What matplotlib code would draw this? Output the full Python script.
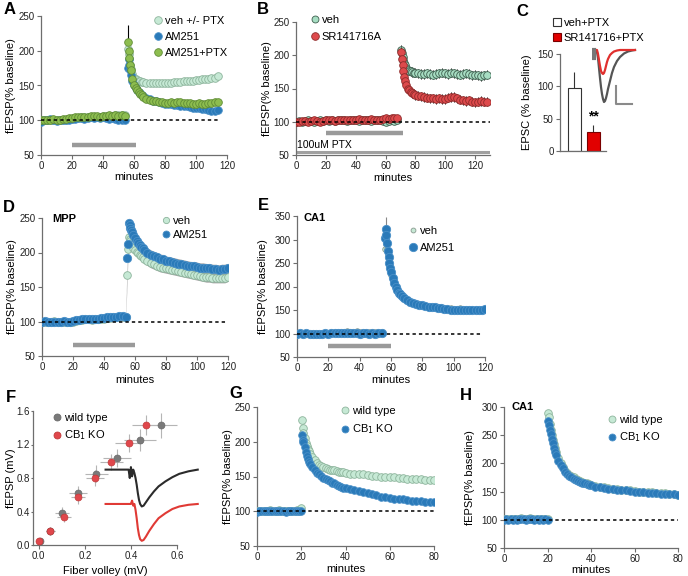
import numpy as np
import matplotlib
matplotlib.use('Agg')
import matplotlib.pyplot as plt
from matplotlib.lines import Line2D
from matplotlib.patches import Patch

plt.rcParams['font.family'] = ['Liberation Sans', 'DejaVu Sans']
plt.rcParams['font.size'] = 7.5

# ---------------- DATA ----------------
# Panel A
A_t_base = np.arange(0, 56, 2)
A_veh_base = [100,100,101,100,100,101,100,100,101,102,102,103,103,104,104,105,104,105,105,105,106,105,106,106,107,107,108,108]
A_am_base = [98,100,101,102,100,99,100,101,100,101,102,102,103,103,102,103,104,103,104,103,104,103,102,103,102,101,101,100]
A_ptx_base = [100,101,100,101,102,101,101,102,102,103,103,104,104,105,105,105,106,106,106,105,106,106,107,106,107,106,107,106]
A_t_post = [56,56.5,57,57.5,58,59,60,61,62,63,64,65,66,68,70,72,74,76,78,80,82,84,86,88,90,92,94,96,98,100,102,104,106,108,110,112,114]
A_veh_post = [203,195,188,180,174,166,161,159,158,157,156,155,155,154,154,153,153,154,153,153,154,154,155,155,155,156,156,157,157,158,158,159,160,160,161,161,163]
A_am_post = [175,188,180,172,165,156,150,146,143,141,139,137,135,132,130,128,127,126,125,124,123,123,122,122,121,120,120,119,118,117,117,116,116,115,114,114,115]
A_ptx_post = [212,200,190,180,172,160,150,146,143,140,138,136,134,131,129,128,127,126,126,125,125,126,125,126,126,125,125,125,124,124,125,124,124,125,125,126,126]
A_labels = ['veh +/- PTX', 'AM251', 'AM251+PTX']

# Panel B
B_t_base = np.arange(0, 70, 2)
B_veh_base = [100,101,100,101,102,101,100,101,102,101,102,101,102,101,102,103,102,101,102,103,102,101,102,103,102,101,102,103,102,101,100,101,102,101,102]
B_sr_base = [100,100,101,101,100,101,102,101,100,101,102,103,102,101,102,103,102,102,103,102,103,104,103,102,103,104,103,102,103,104,105,104,105,106,106]
B_t_post = [70.5,71,71.5,72,72.5,73,74,75,76,77,78,79,80,82,84,86,88,90,92,94,96,98,100,102,104,106,108,110,112,114,116,118,120,122,124,126,128]
B_veh_post = [208,203,198,193,189,186,181,178,177,176,175,174,174,173,172,172,173,172,171,172,173,174,173,172,174,173,172,171,172,173,172,170,171,170,169,170,171]
B_sr_post = [205,195,185,176,168,162,155,150,147,145,143,142,140,139,138,137,136,135,135,134,135,134,134,136,137,137,135,133,132,131,132,130,129,130,131,130,130]
B_labels = ['veh', 'SR141716A']

# Panel C
C_groups = ['veh+PTX', 'SR141716+PTX']
C_vals = [97, 29]
C_errs = [25, 11]
C_trace_t = [0,3,5,6,7,8,9,10,11,12,13,14,15,16,18,20,22,25,28,32,36,40,43]
C_trace_veh = [0,0,-2,-8,-18,-28,-37,-44,-49,-52,-51,-48,-44,-39,-31,-23,-17,-11,-7,-3.5,-1.5,-0.5,0]
C_trace_sr = [0,0,0,-4,-10,-16,-21,-23,-24,-23,-20,-16,-12,-9,-5,-3,-1.5,-0.5,0,0,0,0,0]

# Panel D
D_t_base = np.arange(0, 56, 2)
D_veh_base = [100,100,99,100,101,100,99,100,100,99,100,101,102,102,103,103,102,103,103,104,104,105,105,106,106,107,107,106]
D_am_base = [99,101,100,100,99,100,100,101,100,100,101,102,102,103,104,104,103,104,104,105,105,106,106,107,107,108,108,107]
D_t_post = [55,55.5,56,56.5,57,57.5,58,59,60,61,62,63,64,65,66,68,70,72,74,76,78,80,82,84,86,88,90,92,94,96,98,100,102,104,106,108,110,112,114,116,118,120]
D_veh_post = [168,205,222,220,217,214,211,207,204,201,199,197,195,193,191,188,185,183,181,179,178,177,176,175,174,173,172,171,170,169,168,167,166,165,164,164,163,163,163,163,163,165]
D_am_post = [192,212,243,240,236,232,229,225,221,217,214,211,208,206,204,200,197,195,193,191,190,188,187,186,185,184,183,182,181,180,180,179,178,178,177,177,176,176,175,176,176,177]
D_labels = ['veh', 'AM251']

# Panel E
E_t_base = np.arange(0, 56, 2)
E_veh_base = [100,100,101,100,100,101,100,100,101,101,102,103,103,104,104,104,105,104,104,105,104,103,104,104,103,103,104,104]
E_am_base = [100,101,100,101,100,100,99,100,100,101,100,101,101,102,101,102,101,101,102,101,100,101,101,100,101,100,101,101]
E_t_post = [56,56.5,57,57.5,58,58.5,59,59.5,60,61,62,63,64,65,66,67,68,70,72,74,76,78,80,82,84,86,88,90,92,94,96,98,100,102,104,106,108,110,112,114,116,118,120]
E_am_post = [303,322,310,293,275,262,250,240,230,218,208,200,193,187,183,179,176,172,168,165,163,161,160,158,157,156,156,155,154,153,152,151,150,150,150,150,149,150,150,151,150,151,152]
E_veh_post = [280,295,290,280,268,255,245,235,225,214,205,197,190,185,181,177,174,170,167,164,162,160,159,158,157,157,157,156,156,155,154,154,153,153,154,153,152,152,153,152,151,151,150]
E_labels = ['veh', 'AM251']

# Panel F
F_wt_x = [0.005, 0.05, 0.10, 0.17, 0.25, 0.34, 0.44, 0.53]
F_wt_y = [0.05, 0.17, 0.38, 0.62, 0.85, 1.04, 1.25, 1.43]
F_wt_xerr = [0.01, 0.02, 0.03, 0.04, 0.05, 0.06, 0.07, 0.07]
F_wt_yerr = [0.02, 0.05, 0.07, 0.08, 0.10, 0.11, 0.13, 0.15]
F_ko_x = [0.0, 0.05, 0.11, 0.17, 0.245, 0.315, 0.39, 0.465]
F_ko_y = [0.05, 0.17, 0.34, 0.57, 0.80, 0.99, 1.22, 1.43]
F_ko_xerr = [0.01, 0.02, 0.03, 0.03, 0.04, 0.05, 0.06, 0.06]
F_ko_yerr = [0.02, 0.05, 0.07, 0.08, 0.09, 0.10, 0.11, 0.12]
F_tr_x = [0.29,0.33,0.37,0.39,0.395,0.40,0.405,0.41,0.415,0.42,0.425,0.43,0.435,0.44,0.447,0.455,0.465,0.48,0.50,0.52,0.55,0.58,0.61,0.65,0.69]
F_tr_wt = [0.90,0.90,0.90,0.90,0.80,0.93,0.82,0.90,0.86,0.80,0.72,0.62,0.54,0.49,0.46,0.47,0.51,0.57,0.64,0.70,0.76,0.81,0.85,0.88,0.90]
F_tr_ko = [0.49,0.49,0.49,0.49,0.49,0.49,0.53,0.47,0.49,0.42,0.32,0.20,0.12,0.07,0.05,0.06,0.10,0.17,0.25,0.32,0.38,0.43,0.46,0.48,0.49]
F_labels = ['wild type', 'CB$_1$ KO']

# Panels G, H
GH_t_base = np.arange(0, 21, 1)
GH_t_post = [20.3,20.7,21,21.5,22,22.5,23,23.5,24,25,26,27,28,29,30,31,32,33,34,35,36,37,38,39,40,42,44,46,48,50,52,54,56,58,60,62,64,66,68,70,72,74,76,78,80]
G_wt_base = [100,101,100,101,100,101,102,101,100,101,102,101,100,101,100,101,100,101,102,101,104]
G_ko_base = [99,100,100,101,100,100,101,100,100,101,101,100,100,99,100,100,101,100,100,101,100]
G_wt_post = [232,220,212,205,198,194,190,186,183,178,174,170,167,165,163,162,161,160,159,159,158,157,157,156,155,154,154,153,153,152,151,151,150,150,149,149,148,148,147,147,146,146,145,145,145]
G_ko_post = [210,203,200,192,185,180,175,171,168,163,159,155,153,151,148,147,145,143,141,140,138,137,135,134,133,132,130,129,127,126,125,124,121,120,119,118,118,117,116,115,115,115,114,114,113]
H_wt_base = [101,102,101,102,101,102,101,102,103,102,101,102,103,102,101,102,101,102,101,102,101]
H_ko_base = [100,101,100,101,100,101,100,101,102,101,100,101,102,101,100,101,100,101,100,101,100]
H_wt_post = [290,282,270,260,250,242,234,227,220,209,200,193,187,183,180,177,175,172,170,168,167,166,165,163,162,160,159,158,156,155,154,153,153,152,151,150,150,149,149,148,147,147,146,145,144]
H_ko_post = [275,268,260,252,244,236,228,221,215,205,197,191,185,181,178,175,173,171,169,167,166,165,164,162,161,159,158,157,155,154,153,152,152,151,150,149,149,148,148,147,146,146,145,145,144]

# ---------------- STYLE ----------------
MINT_F, MINT_E = '#c6e9d5', '#8db49c'
BLUE_F, BLUE_E = '#2a7ab9', '#4a90c8'
GREEN_F, GREEN_E = '#8dbd4f', '#5f8c35'
RED_F, RED_E = '#de4a4c', '#8e2b2b'
SPINE = '#6e6e6e'
W, H = 688, 576
fig = plt.figure(figsize=(W / 100, H / 100), dpi=100)


def add_ax(box):
    x0, y0, x1, y1 = box
    return fig.add_axes([x0 / W, 1 - y1 / H, (x1 - x0) / W, (y1 - y0) / H])


def style(ax, xlim, ylim, xticks, yticks):
    for s in ['top', 'right']:
        ax.spines[s].set_visible(False)
    for s in ['left', 'bottom']:
        ax.spines[s].set_color(SPINE)
        ax.spines[s].set_linewidth(0.9)
    ax.set_xlim(*xlim)
    ax.set_ylim(*ylim)
    ax.set_xticks(xticks)
    ax.set_yticks(yticks)
    ax.tick_params(length=3, width=0.8, color=SPINE, labelsize=7, pad=1.5, labelcolor='#222222')
    ax.patch.set_alpha(0)


def labels(ax, box, xl, xl_py, yl, yl_px):
    x0, y0, x1, y1 = box
    if xl:
        ax.set_xlabel(xl, fontsize=8, va='center')
        ax.xaxis.set_label_coords(0.5, (y1 - xl_py) / (y1 - y0))
    if yl:
        ax.set_ylabel(yl, fontsize=8, va='center')
        ax.yaxis.set_label_coords((yl_px - x0) / (x1 - x0), 0.5)


def series(ax, t, y, face, edge, ms, z, err=None, ecolor=None):
    if err is not None:
        ax.errorbar(t, y, yerr=err, fmt='none', ecolor=ecolor, elinewidth=0.7, zorder=z - 0.5)
    ax.plot(t, y, 'o', ls='none', ms=ms, mfc=face, mec=edge, mew=0.6, zorder=z)


def handle(face, edge, ms, label):
    return Line2D([], [], marker='o', ls='none', ms=ms, mfc=face, mec=edge, mew=0.6, label=label)


def legend(ax, handles, px, py, spacing):
    ax.legend(handles=handles, loc='upper left', bbox_to_anchor=(px / W, 1 - py / H),
              bbox_transform=fig.transFigure, frameon=False, handlelength=0.7,
              handletextpad=0.25, borderpad=0, borderaxespad=0, labelspacing=spacing,
              fontsize=8)


def letter(px, py, s):
    fig.text(px / W, 1 - py / H, s, fontsize=12, fontweight='bold', ha='center', va='center')


def note(px, py, s):
    fig.text(px / W, 1 - py / H, s, fontsize=8, fontweight='bold', ha='left', va='center')


def baseline_line(ax, xmax):
    ax.hlines(100, 0, xmax, colors='black', linestyles=(0, (2.2, 2)), lw=1.1, zorder=5)


def drug_bar(ax, span, yv):
    ax.hlines(yv, span[0], span[1], colors='#9a9a9a', lw=3.2, zorder=1)


def cat(a, b):
    return np.concatenate([np.asarray(a, float), np.asarray(b, float)])

# ---------------- PANEL A ----------------
boxA = (41, 16, 227, 155)
axA = add_ax(boxA)
style(axA, (0, 120), (50, 250), range(0, 121, 20), range(50, 251, 50))
tA = cat(A_t_base, A_t_post)
series(axA, tA, cat(A_veh_base, A_veh_post), MINT_F, MINT_E, 5.5, 3, 3, '#a9d3bd')
series(axA, tA, cat(A_am_base, A_am_post), BLUE_F, BLUE_E, 5.5, 4, 3, '#6aa6d6')
series(axA, tA, cat(A_ptx_base, A_ptx_post), GREEN_F, GREEN_E, 5.5, 5, 3, '#a8cc7c')
axA.errorbar([A_t_post[0]], [A_ptx_post[0]], yerr=[25], fmt='none', ecolor='black', elinewidth=0.8, zorder=2)
baseline_line(axA, 114)
drug_bar(axA, (20, 61), 64)
labels(axA, boxA, 'minutes', 177, 'fEPSP(% baseline)', 11)
legend(axA, [handle(MINT_F, MINT_E, 5.5, A_labels[0]), handle(BLUE_F, BLUE_E, 5.5, A_labels[1]),
             handle(GREEN_F, GREEN_E, 5.5, A_labels[2])], 154, 16, 0.55)
letter(10, 9, 'A')

# ---------------- PANEL B ----------------
boxB = (296, 22, 490, 155)
axB = add_ax(boxB)
style(axB, (0, 130), (50, 250), range(0, 121, 20), range(50, 251, 50))
tB = cat(B_t_base, B_t_post)
errB = [2.5] * len(B_t_base) + [7] * len(B_t_post)
series(axB, tB, cat(B_veh_base, B_veh_post), '#a6ddc2', '#3e5e4e', 5.5, 3, errB, '#111111')
series(axB, tB, cat(B_sr_base, B_sr_post), RED_F, RED_E, 5.5, 4, errB, '#111111')
baseline_line(axB, 130)
drug_bar(axB, (20, 72), 83)
axB.hlines(55, 0, 130, colors='#a0a0a0', lw=2.2, zorder=1)
axB.text(1, 58, '100uM PTX', fontsize=7.5, ha='left', va='bottom')
labels(axB, boxB, 'minutes', 178, 'fEPSP(% baseline)', 267)
legend(axB, [handle('#a6ddc2', '#3e5e4e', 5, B_labels[0]), handle(RED_F, RED_E, 5.5, B_labels[1])], 311, 15, 0.6)
letter(263, 9, 'B')

# ---------------- PANEL C ----------------
boxC = (560, 54, 606, 151)
axC = add_ax(boxC)
style(axC, (-0.76, 1.66), (0, 150), [], range(0, 151, 50))
xC = np.arange(len(C_groups))
axC.bar(xC, C_vals, width=0.68, color=['white', '#e10000'], edgecolor=['#333333', '#7a0000'], lw=0.8, zorder=2)
axC.errorbar(xC, C_vals, yerr=[[0, 0], C_errs], fmt='none', ecolor='#333333', elinewidth=0.8, zorder=1)
axC.text(xC[1], C_vals[1] + C_errs[1] + 2, '**', ha='center', va='bottom', fontsize=10, fontweight='bold')
labels(axC, boxC, None, None, 'EPSC (% baseline)', 527)
axC.legend(handles=[Patch(facecolor='white', edgecolor='#333333', lw=0.8, label=C_groups[0]),
                    Patch(facecolor='#e10000', edgecolor='#7a0000', lw=0.8, label='SR141716+PTX')],
           loc='upper left', bbox_to_anchor=(553 / W, 1 - 18 / H), bbox_transform=fig.transFigure,
           frameon=False, handlelength=0.75, handleheight=0.75, handletextpad=0.2,
           borderpad=0, borderaxespad=0, labelspacing=0.45, fontsize=8)
letter(522, 12, 'C')
axCi = add_ax((592, 46, 642, 108))
axCi.set_xlim(0, 50)
axCi.set_ylim(-58, 4)
axCi.axis('off')
axCi.plot(C_trace_t, C_trace_veh, color='#555555', lw=1.6)
axCi.plot(C_trace_t, C_trace_sr, color='#e0302e', lw=1.6)
axCi.plot([2, 2], [0, -8], color='#777777', lw=3)
axCi.plot([24, 24, 40], [-36, -54, -54], color='#8a8a8a', lw=1.5)

# ---------------- PANEL D ----------------
boxD = (42, 218, 228, 356)
axD = add_ax(boxD)
style(axD, (0, 120), (50, 250), range(0, 121, 20), range(50, 251, 50))
tD = cat(D_t_base, D_t_post)
yDv = cat(D_veh_base, D_veh_post)
yDa = cat(D_am_base, D_am_post)
semD = np.array([2] * len(D_t_base) + [7] * len(D_t_post))
axD.fill_between(tD, yDv - semD, yDv + semD, color='#a3a3a3', lw=0, zorder=1)
axD.fill_between(tD, yDa - semD, yDa + semD, color='#a3a3a3', lw=0, zorder=1)
series(axD, tD, yDv, MINT_F, MINT_E, 5.5, 3)
series(axD, tD, yDa, BLUE_F, BLUE_E, 6, 4)
baseline_line(axD, 120)
drug_bar(axD, (20, 60), 66)
labels(axD, boxD, 'minutes', 380, 'fEPSP(% baseline)', 12)
note(52, 219, 'MPP')
legend(axD, [handle(MINT_F, MINT_E, 4.5, D_labels[0]), handle(BLUE_F, BLUE_E, 5, D_labels[1])], 162, 216, 0.35)
letter(9, 207, 'D')

# ---------------- PANEL E ----------------
boxE = (297, 216, 485, 357)
axE = add_ax(boxE)
style(axE, (0, 120), (50, 350), range(0, 121, 20), range(50, 351, 50))
tE = cat(E_t_base, E_t_post)
series(axE, tE, cat(E_veh_base, E_veh_post), MINT_F, '#8a9a90', 4, 3, 3, '#9a9a9a')
series(axE, tE, cat(E_am_base, E_am_post), BLUE_F, BLUE_E, 6, 4)
axE.errorbar([E_t_post[1]], [E_am_post[1]], yerr=[26], fmt='none', ecolor='#888888', elinewidth=0.8, zorder=2)
baseline_line(axE, 118)
drug_bar(axE, (20, 60), 73)
labels(axE, boxE, 'minutes', 380, 'fEPSP(% baseline)', 263)
note(304, 218, 'CA1')
legend(axE, [handle(MINT_F, '#8a9a90', 3.5, E_labels[0]), handle(BLUE_F, BLUE_E, 6, E_labels[1])], 409, 226, 0.65)
letter(263, 205, 'E')

# ---------------- PANEL F ----------------
boxF = (33, 411, 177, 545)
axF = add_ax(boxF)
style(axF, (-0.025, 0.6), (0, 1.6), [0, 0.2, 0.4, 0.6], [0, 0.4, 0.8, 1.2, 1.6])
axF.tick_params(axis='y', length=1.5, pad=1)
axF.set_xticklabels(['0.0', '0.2', '0.4', '0.6'])
axF.set_yticklabels(['0.0', '0.4', '0.8', '1.2', '1.6'])
axF.errorbar(F_wt_x, F_wt_y, xerr=F_wt_xerr, yerr=F_wt_yerr, fmt='none', ecolor='#b5b5b5', elinewidth=0.8, zorder=2, clip_on=False)
axF.errorbar(F_ko_x, F_ko_y, xerr=F_ko_xerr, yerr=F_ko_yerr, fmt='none', ecolor='#b5b5b5', elinewidth=0.8, zorder=2, clip_on=False)
axF.plot(F_wt_x, F_wt_y, 'o', ls='none', ms=5, mfc='#7a7a7a', mec='#6a6a6a', mew=0.5, zorder=4, clip_on=False)
axF.plot(F_ko_x, F_ko_y, 'o', ls='none', ms=5, mfc='#e0474c', mec='#c03a3a', mew=0.5, zorder=4, clip_on=False)
axF.plot(F_tr_x, F_tr_wt, color='#2b2b2b', lw=1.5, zorder=3, clip_on=False)
axF.plot(F_tr_x, F_tr_ko, color='#e03a35', lw=1.5, zorder=3, clip_on=False)
labels(axF, boxF, 'Fiber volley (mV)', 571, 'fEPSP (mV)', 11)
legend(axF, [handle('#7a7a7a', '#6a6a6a', 5, F_labels[0]), handle('#e0474c', '#c03a3a', 5, F_labels[1])], 53, 413, 0.5)
letter(11, 398, 'F')

# ---------------- PANEL G ----------------
boxG = (257, 407, 434, 546)
axG = add_ax(boxG)
style(axG, (0, 80), (50, 250), range(0, 81, 20), range(50, 251, 50))
tG = cat(GH_t_base, GH_t_post)
series(axG, tG, cat(G_wt_base, G_wt_post), MINT_F, MINT_E, 5.5, 3)
series(axG, tG, cat(G_ko_base, G_ko_post), BLUE_F, BLUE_E, 5.5, 4)
baseline_line(axG, 80)
labels(axG, boxG, 'minutes', 569, 'fEPSP(% baseline)', 228)
legend(axG, [handle(MINT_F, MINT_E, 5, F_labels[0]), handle(BLUE_F, BLUE_E, 5, F_labels[1])], 341, 406, 0.6)
letter(236, 394, 'G')

# ---------------- PANEL H ----------------
boxH = (504, 407, 678, 548)
axH = add_ax(boxH)
style(axH, (0, 80), (50, 300), range(0, 81, 20), range(50, 301, 50))
series(axH, tG, cat(H_wt_base, H_wt_post), MINT_F, MINT_E, 5.5, 3)
series(axH, tG, cat(H_ko_base, H_ko_post), BLUE_F, BLUE_E, 5.5, 4)
baseline_line(axH, 80)
labels(axH, boxH, 'minutes', 570, 'fEPSP(% baseline)', 470)
note(511, 407, 'CA1')
legend(axH, [handle(MINT_F, MINT_E, 5, F_labels[0]), handle(BLUE_F, BLUE_E, 5, F_labels[1])], 608, 415, 0.5)
letter(466, 396, 'H')

fig.savefig('out.png', dpi=100)
